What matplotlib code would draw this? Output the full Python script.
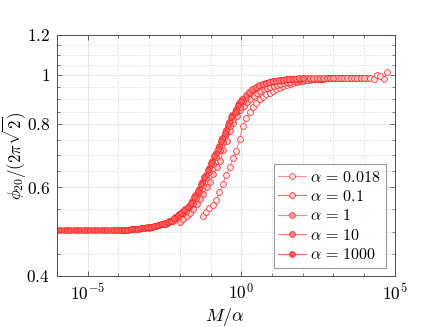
import numpy as np
import matplotlib
matplotlib.use("Agg")
import matplotlib.pyplot as plt
from matplotlib.ticker import FixedLocator, NullFormatter

plt.rcParams['mathtext.fontset'] = 'cm'
plt.rcParams['font.family'] = ['DejaVu Serif']

# ---- data ----
alphas = [0.018, 0.1, 1, 10, 1000]
labels = [r'$\alpha\,=\,0.018$', r'$\alpha\,=\,0.1$', r'$\alpha\,=\,1$',
          r'$\alpha\,=\,10$', r'$\alpha\,=\,1000$']
M = np.logspace(-3, 3, 56)  # sampling grid of M

y_a0018 = [0.526, 0.535, 0.545, 0.553, 0.566, 0.587, 0.609, 0.633, 0.657, 0.684,
           0.707, 0.747, 0.794, 0.822, 0.845, 0.864, 0.881, 0.895, 0.906, 0.915,
           0.923, 0.930, 0.937, 0.943, 0.949, 0.954, 0.959, 0.964, 0.968, 0.972,
           0.975, 0.977, 0.979, 0.981, 0.982, 0.983, 0.984,
           0.985, 0.985, 0.985, 0.985, 0.985, 0.985, 0.985, 0.985, 0.985, 0.985,
           0.985, 0.985, 0.985, 0.985,
           0.982, 1.000, 0.995, 0.982, 1.012]
y_a01 = [0.512, 0.518, 0.525, 0.533, 0.543, 0.555, 0.568, 0.581, 0.599, 0.613,
         0.637, 0.657, 0.676, 0.710, 0.740, 0.773, 0.804, 0.829, 0.852, 0.867,
         0.883, 0.896, 0.909, 0.920, 0.928, 0.936, 0.942, 0.947, 0.952, 0.957,
         0.960, 0.964, 0.967, 0.970, 0.972, 0.974, 0.976, 0.978, 0.979, 0.980,
         0.981, 0.982, 0.983, 0.984,
         0.985, 0.985, 0.985, 0.985, 0.985, 0.985, 0.985, 0.985, 0.985, 0.985,
         0.985, 0.985]
y_a1 = [0.498, 0.500, 0.502, 0.504, 0.506, 0.508, 0.511, 0.515, 0.520, 0.526,
        0.532, 0.539, 0.547, 0.557, 0.571, 0.587, 0.605, 0.624, 0.644, 0.665,
        0.688, 0.711, 0.736, 0.763, 0.791, 0.818, 0.843, 0.866, 0.887, 0.905,
        0.920, 0.932, 0.942, 0.951, 0.958, 0.963, 0.967, 0.971, 0.974, 0.976,
        0.978, 0.980, 0.981, 0.982, 0.983, 0.984,
        0.985, 0.985, 0.985, 0.985, 0.985, 0.985, 0.985, 0.985, 0.985, 0.985]
y_a10 = [0.493, 0.493, 0.494, 0.494, 0.495, 0.495, 0.496, 0.497, 0.498, 0.499,
         0.501, 0.503, 0.505, 0.507, 0.509, 0.513, 0.517, 0.524, 0.530, 0.536,
         0.543, 0.551, 0.563, 0.579, 0.596, 0.615, 0.634, 0.655, 0.676, 0.700,
         0.723, 0.750, 0.778, 0.806, 0.832, 0.855, 0.879, 0.896, 0.912, 0.926,
         0.937, 0.947, 0.955, 0.961, 0.966, 0.969, 0.972, 0.975, 0.977, 0.979,
         0.981, 0.982, 0.983, 0.984, 0.985, 0.985]
y_a1000 = [0.493] * 20 + [
           0.494, 0.494, 0.495, 0.495, 0.496, 0.497, 0.498, 0.499, 0.500, 0.502,
           0.504, 0.506, 0.508, 0.511, 0.515, 0.521, 0.528, 0.534, 0.540, 0.548,
           0.559, 0.573, 0.590, 0.608, 0.627, 0.647, 0.668, 0.692, 0.715, 0.741,
           0.769, 0.797, 0.824, 0.846, 0.871, 0.890]
series = [y_a0018, y_a01, y_a1, y_a10, y_a1000]

yticks = [0.4, 0.6, 0.8, 1.0, 1.2]
ytick_labels = ['0.4', '0.6', '0.8', '1', '1.2']
xticks = [1e-5, 1e0, 1e5]
xtick_labels = [r'$10^{-5}$', r'$10^{0}$', r'$10^{5}$']

# ---- styles ----
face_colors = ['#ffe8e8', '#ffc2c2', '#ffa0a0', '#ff7c7c', '#ff5c5c']
line_alpha = [0.45, 0.6, 0.5, 0.5, 0.6]

fig = plt.figure(figsize=(4.36, 3.27), dpi=100)
ax = fig.add_axes([0.1307, 0.156, 0.775, 0.737])

for a, y, fc, la, lab in zip(alphas, series, face_colors, line_alpha, labels):
    ax.plot(M / a, y, '-', color=(1, 0, 0, la), lw=0.8,
            marker='o', markersize=4.2, markerfacecolor=fc,
            markeredgecolor=(1, 0.1, 0.1, 0.85), markeredgewidth=0.6,
            label=lab)

ax.set_xscale('log')
ax.set_yscale('log')
ax.set_xlim(1e-6, 1e5)
ax.set_ylim(0.4, 1.2)

ax.xaxis.set_major_locator(FixedLocator(xticks))
ax.set_xticklabels(xtick_labels)
ax.xaxis.set_minor_locator(FixedLocator([10.0 ** k for k in range(-6, 6)]))
ax.xaxis.set_minor_formatter(NullFormatter())

ax.yaxis.set_major_locator(FixedLocator(yticks))
ax.set_yticklabels([r'$%s$' % t for t in ytick_labels])
yminor = []
for lo, hi in zip(yticks[:-1], yticks[1:]):
    for k in (1, 2, 3):
        yminor.append(lo * (hi / lo) ** (k / 4))
ax.yaxis.set_minor_locator(FixedLocator(yminor))
ax.yaxis.set_minor_formatter(NullFormatter())

ax.grid(True, which='major', color='#e6e6e6', lw=0.7, ls='-')
ax.grid(True, which='minor', color='#c8c8c8', lw=0.6, ls=(0, (1, 2)))
ax.set_axisbelow(True)

for s in ax.spines.values():
    s.set_color('#4d4d4d')
    s.set_linewidth(0.7)
ax.tick_params(which='both', direction='in', top=True, right=True,
               color='#4d4d4d', labelsize=12.5, pad=5)
ax.tick_params(which='major', length=3.5, width=0.6)
ax.tick_params(which='minor', length=2, width=0.5)

ax.set_xlabel(r'$M/\alpha$', fontsize=13)
ax.xaxis.set_label_coords(0.497, -0.125)
ax.set_ylabel(r'$\phi_{20}/(2\pi\sqrt{2})$', fontsize=12)
ax.yaxis.set_label_coords(-0.086, 0.5)

leg = ax.legend(loc='lower right', bbox_to_anchor=(0.973, 0.033), fontsize=11.5,
                frameon=True, fancybox=False, handlelength=1.7,
                handletextpad=0.3, borderpad=0.3, labelspacing=0.15,
                borderaxespad=0.0)
leg.get_frame().set_edgecolor('#808080')
leg.get_frame().set_linewidth(0.8)

fig.savefig('out.png', dpi=100)
